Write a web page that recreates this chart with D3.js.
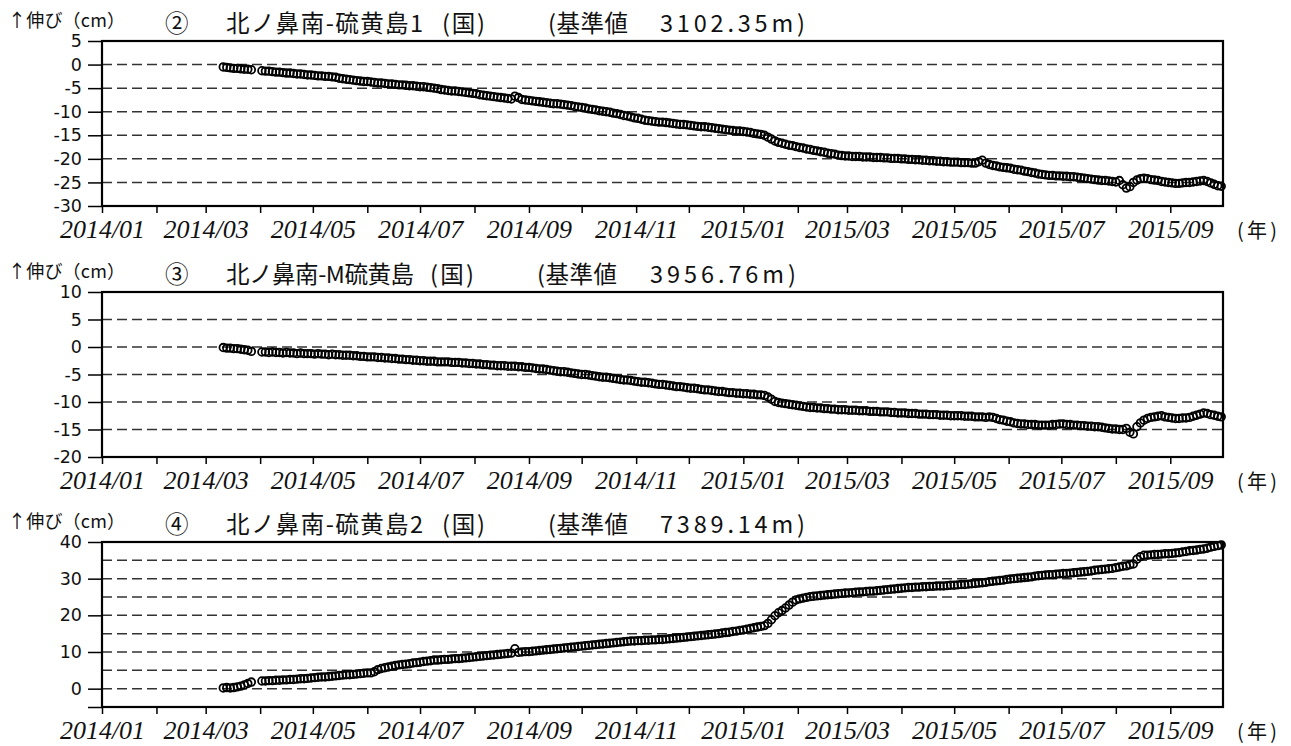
<!DOCTYPE html>
<html>
<head>
<meta charset="utf-8">
<script src="https://cdn.jsdelivr.net/npm/d3@7"></script>
<style>
  html, body { margin: 0; padding: 0; background: #fff; }
  svg { display: block; }
</style>
</head>
<body>
<svg id="chart" width="1291" height="746"></svg>
<script>
// ---- observation schedule (one reading every stepDays) ----
const runStartA = "2014-03-11";   // short first run
const runStartB = "2014-04-02";   // continuous run to end of Sep 2015
const stepDays = 2;
const axisStart = "2014-01-01";
const axisEnd = "2015-10-01";

// ---- panel texts ----
const panelNumbers = ["②", "③", "④"];
const panelNames = ["北ノ鼻南-硫黄島1", "北ノ鼻南-M硫黄島", "北ノ鼻南-硫黄島2"];
const baseLengths = ["3102.35", "3956.76", "7389.14"];
const unitLabel = "↑伸び（cm）";
const yearLabel = "(年)";

// ---- y axes (cm) ----
const yDomains = [[-30, 5], [-20, 10], [-5, 40]];
const yTicks = [
  [5, 0, -5, -10, -15, -20, -25, -30],
  [10, 5, 0, -5, -10, -15, -20],
  [40, 30, 20, 10, 0, -5]
];
const yTickLabels = [
  ["5", "0", "-5", "-10", "-15", "-20", "-25", "-30"],
  ["10", "5", "0", "-5", "-10", "-15", "-20"],
  ["40", "30", "20", "10", "0", ""]
];
const gridLevels = [
  [0, -5, -10, -15, -20, -25],
  [5, 0, -5, -10, -15],
  [35, 30, 25, 20, 15, 10, 5, 0]
];

// ---- baseline change (cm) ----
const line2A = [-0.5, -0.6, -0.7, -0.8, -0.8, -0.9, -1.0, -1.0, -1.1];
const line2B = [
  -1.3, -1.4, -1.4, -1.5, -1.6, -1.6, -1.7, -1.8, -1.8, -1.9,
  -2.0, -2.0, -2.1, -2.2, -2.2, -2.3, -2.4, -2.4, -2.5, -2.5,
  -2.6, -2.7, -2.9, -3.0, -3.1, -3.2, -3.3, -3.4, -3.5, -3.6,
  -3.6, -3.7, -3.8, -3.9, -3.9, -4.0, -4.1, -4.1, -4.2, -4.3,
  -4.3, -4.4, -4.5, -4.5, -4.6, -4.7, -4.7, -4.8, -4.9, -5.0,
  -5.1, -5.3, -5.4, -5.5, -5.6, -5.6, -5.7, -5.8, -5.9, -6.0,
  -6.1, -6.2, -6.4, -6.5, -6.6, -6.7, -6.8, -6.9, -7.0, -7.1,
  -7.2, -7.3, -6.7, -7.0, -7.4, -7.5, -7.6, -7.7, -7.8, -7.9,
  -8.0, -8.1, -8.2, -8.3, -8.3, -8.4, -8.5, -8.6, -8.7, -8.9,
  -9.0, -9.1, -9.2, -9.4, -9.5, -9.6, -9.8, -9.9, -10.0, -10.1,
  -10.3, -10.4, -10.6, -10.8, -10.9, -11.1, -11.3, -11.4, -11.6, -11.8,
  -11.9, -12.0, -12.1, -12.2, -12.2, -12.3, -12.4, -12.5, -12.6, -12.7,
  -12.7, -12.8, -12.9, -13.0, -13.1, -13.2, -13.2, -13.3, -13.4, -13.5,
  -13.6, -13.7, -13.8, -13.9, -14.0, -14.1, -14.1, -14.2, -14.3, -14.4,
  -14.6, -14.7, -14.8, -15.0, -15.4, -15.8, -16.2, -16.5, -16.7, -16.9,
  -17.1, -17.2, -17.4, -17.6, -17.7, -17.9, -18.0, -18.2, -18.3, -18.5,
  -18.6, -18.8, -18.9, -19.0, -19.2, -19.3, -19.4, -19.4, -19.5, -19.5,
  -19.5, -19.6, -19.6, -19.6, -19.7, -19.7, -19.7, -19.8, -19.8, -19.9,
  -19.9, -19.9, -20.0, -20.0, -20.1, -20.1, -20.2, -20.2, -20.3, -20.3,
  -20.4, -20.4, -20.5, -20.5, -20.6, -20.6, -20.7, -20.7, -20.7, -20.8,
  -20.8, -20.8, -20.9, -20.9, -20.6, -20.3, -20.9, -21.2, -21.4, -21.5,
  -21.7, -21.8, -21.9, -22.0, -22.2, -22.3, -22.4, -22.6, -22.7, -22.9,
  -23.0, -23.2, -23.3, -23.4, -23.5, -23.5, -23.6, -23.6, -23.7, -23.7,
  -23.8, -23.8, -23.9, -24.0, -24.1, -24.2, -24.3, -24.4, -24.5, -24.6,
  -24.6, -24.7, -24.8, -24.9, -24.6, -25.5, -26.2, -25.9, -25.0, -24.5,
  -24.2, -24.1, -24.2, -24.4, -24.5, -24.6, -24.8, -24.9, -25.0, -25.1,
  -25.2, -25.2, -25.1, -25.0, -25.0, -24.9, -24.8, -24.7, -24.6, -24.8,
  -25.1, -25.4, -25.7, -25.8
];

const line3A = [-0.1, -0.2, -0.2, -0.3, -0.3, -0.4, -0.5, -0.6, -0.8];
const line3B = [
  -0.9, -0.9, -1.0, -0.9, -1.0, -1.0, -1.1, -1.0, -1.1, -1.1,
  -1.2, -1.1, -1.2, -1.2, -1.2, -1.3, -1.2, -1.3, -1.3, -1.4,
  -1.3, -1.4, -1.4, -1.5, -1.5, -1.5, -1.6, -1.6, -1.7, -1.7,
  -1.8, -1.8, -1.8, -1.9, -1.9, -2.0, -2.0, -2.1, -2.1, -2.2,
  -2.2, -2.3, -2.3, -2.4, -2.4, -2.5, -2.5, -2.6, -2.6, -2.6,
  -2.7, -2.7, -2.7, -2.7, -2.8, -2.8, -2.8, -2.9, -2.9, -3.0,
  -3.0, -3.1, -3.1, -3.2, -3.2, -3.3, -3.3, -3.4, -3.4, -3.4,
  -3.5, -3.5, -3.5, -3.6, -3.6, -3.7, -3.7, -3.8, -3.9, -4.0,
  -4.0, -4.1, -4.2, -4.3, -4.4, -4.5, -4.5, -4.6, -4.7, -4.8,
  -4.9, -5.0, -5.0, -5.1, -5.2, -5.3, -5.4, -5.5, -5.5, -5.6,
  -5.7, -5.8, -5.9, -6.0, -6.0, -6.1, -6.2, -6.3, -6.4, -6.4,
  -6.5, -6.6, -6.7, -6.8, -6.8, -6.9, -7.0, -7.1, -7.2, -7.2,
  -7.3, -7.4, -7.5, -7.5, -7.6, -7.7, -7.8, -7.8, -7.9, -8.0,
  -8.1, -8.1, -8.2, -8.3, -8.3, -8.4, -8.4, -8.5, -8.5, -8.6,
  -8.6, -8.7, -8.7, -8.8, -9.1, -9.5, -9.9, -10.1, -10.2, -10.3,
  -10.4, -10.5, -10.6, -10.7, -10.8, -10.9, -11.0, -11.0, -11.1, -11.1,
  -11.2, -11.2, -11.3, -11.3, -11.4, -11.4, -11.4, -11.5, -11.5, -11.5,
  -11.6, -11.6, -11.6, -11.7, -11.7, -11.7, -11.8, -11.8, -11.8, -11.9,
  -11.9, -12.0, -12.0, -12.0, -12.1, -12.1, -12.1, -12.2, -12.2, -12.2,
  -12.3, -12.3, -12.3, -12.4, -12.4, -12.4, -12.5, -12.5, -12.5, -12.5,
  -12.6, -12.6, -12.6, -12.7, -12.7, -12.7, -12.8, -12.7, -12.8, -13.0,
  -13.2, -13.3, -13.5, -13.6, -13.8, -13.9, -14.0, -14.0, -14.1, -14.1,
  -14.1, -14.2, -14.2, -14.2, -14.2, -14.1, -14.1, -14.0, -14.0, -14.1,
  -14.1, -14.2, -14.2, -14.3, -14.3, -14.4, -14.4, -14.5, -14.5, -14.6,
  -14.7, -14.8, -14.9, -14.9, -15.0, -15.0, -14.8, -15.5, -15.8, -14.5,
  -13.8, -13.3, -13.0, -12.8, -12.7, -12.6, -12.5, -12.7, -12.8, -12.9,
  -13.0, -13.0, -12.9, -12.9, -12.8, -12.6, -12.4, -12.2, -12.0, -12.1,
  -12.3, -12.4, -12.6, -12.7
];

const line4A = [0.2, 0.3, 0.2, 0.3, 0.5, 0.7, 1.0, 1.4, 1.8];
const line4B = [
  2.1, 2.1, 2.2, 2.2, 2.3, 2.3, 2.4, 2.4, 2.5, 2.5,
  2.6, 2.7, 2.7, 2.8, 2.9, 3.0, 3.1, 3.2, 3.2, 3.3,
  3.4, 3.5, 3.6, 3.7, 3.8, 3.8, 3.9, 4.0, 4.1, 4.2,
  4.3, 4.3, 4.6, 5.2, 5.5, 5.7, 5.9, 6.1, 6.3, 6.5,
  6.6, 6.7, 6.8, 7.0, 7.1, 7.2, 7.4, 7.5, 7.6, 7.8,
  7.8, 7.9, 8.0, 8.0, 8.1, 8.2, 8.2, 8.3, 8.4, 8.5,
  8.6, 8.7, 8.8, 8.9, 9.0, 9.1, 9.2, 9.3, 9.4, 9.5,
  9.6, 9.7, 10.9, 9.9, 10.0, 10.1, 10.1, 10.2, 10.3, 10.4,
  10.5, 10.6, 10.7, 10.8, 10.9, 11.0, 11.1, 11.2, 11.3, 11.4,
  11.5, 11.6, 11.7, 11.8, 11.9, 12.0, 12.1, 12.2, 12.3, 12.4,
  12.5, 12.6, 12.7, 12.8, 12.9, 13.0, 13.0, 13.1, 13.1, 13.2,
  13.2, 13.3, 13.3, 13.4, 13.4, 13.5, 13.6, 13.7, 13.8, 13.9,
  14.0, 14.1, 14.2, 14.3, 14.4, 14.5, 14.6, 14.7, 14.8, 14.9,
  15.0, 15.2, 15.3, 15.4, 15.6, 15.7, 15.9, 16.0, 16.2, 16.4,
  16.6, 16.8, 17.0, 17.2, 17.8, 18.8, 19.9, 20.7, 21.3, 22.0,
  22.8, 23.6, 24.2, 24.5, 24.7, 24.9, 25.1, 25.2, 25.3, 25.4,
  25.5, 25.6, 25.7, 25.8, 25.9, 26.0, 26.1, 26.1, 26.2, 26.3,
  26.4, 26.4, 26.5, 26.6, 26.6, 26.7, 26.8, 26.9, 27.0, 27.1,
  27.2, 27.3, 27.4, 27.5, 27.6, 27.6, 27.7, 27.7, 27.8, 27.8,
  27.9, 27.9, 28.0, 28.0, 28.0, 28.1, 28.2, 28.2, 28.3, 28.4,
  28.4, 28.5, 28.6, 28.7, 28.8, 28.9, 29.0, 29.2, 29.3, 29.4,
  29.5, 29.6, 29.8, 29.9, 30.0, 30.1, 30.2, 30.3, 30.4, 30.5,
  30.7, 30.8, 30.9, 31.0, 31.1, 31.1, 31.2, 31.3, 31.4, 31.4,
  31.5, 31.6, 31.7, 31.8, 31.9, 32.0, 32.1, 32.3, 32.4, 32.5,
  32.6, 32.7, 32.8, 33.0, 33.2, 33.4, 33.5, 33.8, 34.0, 35.3,
  36.0, 36.4, 36.4, 36.5, 36.6, 36.6, 36.7, 36.8, 36.8, 36.9,
  37.0, 37.1, 37.3, 37.4, 37.6, 37.7, 37.8, 38.0, 38.1, 38.3,
  38.6, 38.8, 39.0, 39.2
];

const seriesA = [line2A, line3A, line4A];
const seriesB = [line2B, line3B, line4B];

// ---- layout ----
const plotLeft = 102, plotRight = 1223;
const panelTops = [41, 292, 542];
const panelHeight = 165;
// title pieces: start x and fitted width
const titleLayout = [
  { num: 165, name: [226, 197], koku: [442, 43], kijun: [548, 80], value: [660, 145] },
  { num: 165, name: [226, 188], koku: [430, 44], kijun: [537, 80], value: [650, 146] },
  { num: 165, name: [226, 197], koku: [442, 43], kijun: [548, 80], value: [660, 145] }
];

const jpFont = "'Noto Sans CJK JP', 'Noto Sans', sans-serif";
const svg = d3.select("#chart");
const parse = d3.utcParse("%Y-%m-%d");

const x = d3.scaleUtc()
  .domain([parse(axisStart), parse(axisEnd)])
  .range([plotLeft, plotRight]);

const monthTicks = d3.utcMonth.range(parse(axisStart), parse(axisEnd));
const monthFmt = d3.utcFormat("%Y/%m");

function toPoints(valuesA, valuesB) {
  const a0 = parse(runStartA), b0 = parse(runStartB);
  const pa = valuesA.map((v, i) => ({ date: d3.utcDay.offset(a0, i * stepDays), v }));
  const pb = valuesB.map((v, i) => ({ date: d3.utcDay.offset(b0, i * stepDays), v }));
  return pa.concat(pb);
}

panelTops.forEach((top, k) => {
  const bottom = top + panelHeight;
  const y = d3.scaleLinear().domain(yDomains[k]).range([bottom, top]);
  const g = svg.append("g");

  // dashed reference levels
  g.append("g").selectAll("line").data(gridLevels[k]).join("line")
    .attr("x1", plotLeft).attr("x2", plotRight)
    .attr("y1", d => y(d)).attr("y2", d => y(d))
    .attr("stroke", "#333").attr("stroke-width", 1.5)
    .attr("stroke-dasharray", "10,5");

  // time axis
  const xa = g.append("g").attr("transform", `translate(0,${bottom})`)
    .call(d3.axisBottom(x).tickValues(monthTicks)
      .tickFormat(d => d.getUTCMonth() % 2 === 0 ? monthFmt(d) : "")
      .tickSize(7).tickPadding(7));
  xa.select(".domain").remove();
  xa.selectAll(".tick line").attr("stroke", "#000").attr("stroke-width", 1.5);
  xa.selectAll("text")
    .attr("font-family", "'Liberation Serif', 'Times New Roman', serif")
    .attr("font-style", "italic").attr("font-size", 26).attr("fill", "#111");

  // value axis
  const labels = yTickLabels[k], ticks = yTicks[k];
  const ya = g.append("g").attr("transform", `translate(${plotLeft},0)`)
    .call(d3.axisLeft(y).tickValues(ticks)
      .tickFormat(d => labels[ticks.indexOf(d)])
      .tickSize(14).tickPadding(6));
  ya.select(".domain").remove();
  ya.selectAll(".tick line").attr("stroke", "#000").attr("stroke-width", 1.5);
  ya.selectAll("text")
    .attr("font-family", "'DejaVu Sans', sans-serif")
    .attr("font-size", 17.5).attr("fill", "#111");

  // observations: open circles, drawn densely so they merge into a band
  const pts = toPoints(seriesA[k], seriesB[k]);
  g.append("g").selectAll("circle").data(pts).join("circle")
    .attr("cx", d => x(d.date)).attr("cy", d => y(d.v))
    .attr("r", 3.8)
    .attr("fill", "none").attr("stroke", "#000").attr("stroke-width", 1.8);

  // frame
  g.append("rect")
    .attr("x", plotLeft).attr("y", top)
    .attr("width", plotRight - plotLeft).attr("height", panelHeight)
    .attr("fill", "none").attr("stroke", "#000").attr("stroke-width", 2.2);

  // unit label
  g.append("text").attr("x", 8).attr("y", top - 14)
    .attr("font-family", jpFont).attr("font-size", 18).attr("fill", "#111")
    .attr("textLength", 117).attr("lengthAdjust", "spacing")
    .text(unitLabel);

  // title
  const L = titleLayout[k];
  const ty = top - 9;
  const piece = (txt, xpos, len) => {
    const t = g.append("text").attr("x", xpos).attr("y", ty)
      .attr("font-family", jpFont).attr("font-size", 23.5).attr("fill", "#111")
      .text(txt);
    if (len) t.attr("textLength", len).attr("lengthAdjust", "spacing");
    return t;
  };
  piece(panelNumbers[k], L.num, null);
  piece(panelNames[k], L.name[0], L.name[1]);
  piece("(国)", L.koku[0], L.koku[1]);
  piece("(基準値", L.kijun[0], L.kijun[1]);
  piece(baseLengths[k] + "m)", L.value[0], L.value[1]);

  // year marker
  g.append("text").attr("x", 1237).attr("y", bottom + 32)
    .attr("font-family", jpFont).attr("font-size", 20).attr("fill", "#111")
    .attr("textLength", 40).attr("lengthAdjust", "spacing")
    .text(yearLabel);
});
</script>
</body>
</html>
